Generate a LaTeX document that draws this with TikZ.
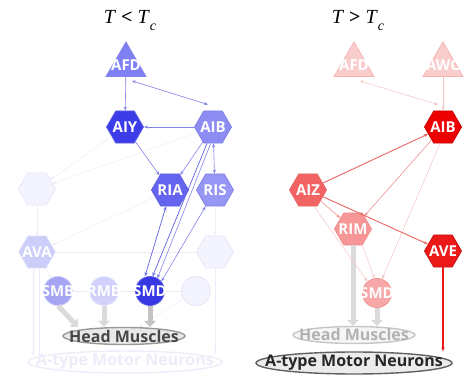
\documentclass[tikz,border=0pt]{standalone}
\usepackage{fontspec}
\setmainfont{Open Sans}
\newfontfamily\titlefont{Liberation Serif}
\usetikzlibrary{shapes.geometric,arrows.meta}
% blues
\definecolor{bAFD}{RGB}{128,128,245}
\definecolor{bAIY}{RGB}{60,60,232}
\definecolor{bAIB}{RGB}{140,140,242}
\definecolor{bRIA}{RGB}{100,100,238}
\definecolor{bRIS}{RGB}{150,150,244}
\definecolor{bAVA}{RGB}{205,205,250}
\definecolor{bSMB}{RGB}{165,165,244}
\definecolor{bRMB}{RGB}{208,208,250}
\definecolor{bSMD}{RGB}{55,55,228}
\definecolor{bfaint}{RGB}{244,244,254}
\definecolor{bfaintd}{RGB}{230,230,250}
\definecolor{bedge}{RGB}{130,130,234}
\definecolor{bedged}{RGB}{95,95,228}
\definecolor{fedge}{RGB}{237,237,250}
% reds
\definecolor{rtri}{RGB}{250,205,205}
\definecolor{rtrid}{RGB}{245,180,180}
\definecolor{rAIB}{RGB}{236,0,0}
\definecolor{rAIZ}{RGB}{242,100,100}
\definecolor{rRIM}{RGB}{246,150,150}
\definecolor{rAVE}{RGB}{236,25,25}
\definecolor{rSMD}{RGB}{248,168,168}
\definecolor{redge}{RGB}{234,100,100}
\definecolor{redgem}{RGB}{240,145,145}
\definecolor{redgef}{RGB}{245,195,195}
\definecolor{gthick}{RGB}{218,218,218}
\definecolor{gthickd}{RGB}{195,195,195}
\begin{document}
\begin{tikzpicture}[x=1pt,y=-1pt,
  hexn/.style={regular polygon,regular polygon sides=6,minimum size=37pt,inner sep=0pt,line width=0.8pt},
  trin/.style={regular polygon,regular polygon sides=3,minimum size=46pt,inner sep=0pt,line width=0.8pt},
  circn/.style={circle,minimum size=29pt,inner sep=0pt,line width=0.8pt},
  elln/.style={ellipse,inner sep=0pt,line width=1.4pt},
  lbl/.style={font=\fontsize{15}{15}\selectfont\bfseries,text=white,inner sep=0pt},
  elbl/.style={font=\fontsize{16}{16}\selectfont\bfseries,inner sep=0pt},
  ttl/.style={font=\titlefont\fontsize{20}{20}\selectfont,inner sep=0pt},
  >={Stealth[length=4pt,width=3.2pt]},
  be/.style={draw=bedge,line width=0.6pt},
  bed/.style={draw=bedged,line width=0.7pt},
  fe/.style={draw=fedge,line width=0.5pt},
  re/.style={draw=redge,line width=0.9pt},
  rem/.style={draw=redgem,line width=0.6pt},
  ref/.style={draw=redgef,line width=0.5pt},
  garrow/.style={draw=gthick,line width=5pt,-{Triangle[length=6pt,width=12pt]}},
]
\useasboundingbox (0,0) rectangle (464,377);

% ---------- titles ----------
\node[ttl] (t1) at (130,21) {\textit{T} \textbf{<} \textit{T}\raisebox{-0.35em}{\fontsize{14}{14}\selectfont\textit{c}}};
\node[ttl] (t2) at (358,21) {\textit{T} \textbf{>} \textit{T}\raisebox{-0.35em}{\fontsize{14}{14}\selectfont\textit{c}}};

% ---------- left panel: faint nodes ----------
\node[hexn,fill=bfaint,draw=bfaintd] (L1) at (37,189) {};
\node[hexn,fill=bfaint,draw=bfaintd] (L2) at (215,252) {};
\node[circn,fill=bfaint,draw=bfaintd] (C4) at (196,291) {};
\node[hexn,fill=bAVA,draw=bfaintd,label={[lbl]center:AVA}] (AVA) at (37,252) {};
\node[circn,fill=bSMB,draw=bAVA,label={[lbl]center:SMB}] (SMB) at (58,291) {};
\node[circn,fill=bRMB,draw=bfaintd,label={[lbl]center:RMB}] (RMB) at (104,291) {};

\node[elln,minimum width=194pt,minimum height=22pt,draw=fedge,fill=white,
  label={[elbl,text=fedge]center:A-type Motor Neurons}] (ATl) at (125,362) {};
\node[elln,minimum width=122pt,minimum height=17pt,draw=gray!80,fill=gray!18,
  label={[elbl,text=black!72]center:Head Muscles}] (HMl) at (124,336) {};

% main left nodes
\node[trin,fill=bAFD,draw=bedge,label={[lbl]center:AFD}] (AFD) at (126,65) {};
\node[hexn,fill=bAIY,draw=bedged,label={[lbl]center:AIY}] (AIY) at (125,127) {};
\node[hexn,fill=bAIB,draw=bedge,label={[lbl]center:AIB}] (AIB) at (213,127) {};
\node[hexn,fill=bRIA,draw=bedged,label={[lbl]center:RIA}] (RIA) at (170,190) {};
\node[hexn,fill=bRIS,draw=bedge,label={[lbl]center:RIS}] (RIS) at (215,190) {};
\node[circn,fill=bSMD,draw=bedged,label={[lbl]center:SMD}] (SMD) at (150,291) {};

% faint edges
\draw[fe,->] (AIY) -- (L1);
\draw[fe,->] (AIB) -- (L1);
\draw[fe,->] (RIA) -- (AVA);
\draw[fe,->] (L1) -- (AVA);
\draw[fe] (AVA) -- (L2);
\draw[fe,->] (RIS) -- (L2);
\draw[fe] (SMB) -- (RMB);
\draw[fe] (RMB) -- (SMD);
\draw[fe] (SMD) -- (C4);
\draw[fe,->] (AVA) -- (SMB);
\coordinate (a1) at (33,356);
\coordinate (a2) at (39,356);
\coordinate (a3) at (215,354);
\draw[fe,->] ([xshift=-4pt]AVA.south) -- (a1);
\draw[fe,->] ([xshift=2pt]AVA.south) -- (a2);
\draw[fe,->] (L2) -- (a3);
\draw[fe,->] (C4) -- (HMl);

% thick gray arrows (left)
\draw[garrow] (SMB.south) -- ([xshift=-46pt]HMl.north);
\draw[garrow] (RMB.south) -- (RMB.south |- HMl.north);
\draw[garrow,draw=gthickd] (SMD.south) -- (SMD.south |- HMl.north);

% blue edges
\draw[be,->] (AFD) -- (AIY);
\draw[be,<->] ([xshift=6pt,yshift=-4pt]AFD.south) -- ([xshift=-5pt,yshift=6pt]AIB.north);
\draw[be,->] (AIB) -- (AIY);
\draw[be,->] (AIY) -- (RIA);
\draw[be,->] (AIB) -- (RIA);
\draw[be,<->] (AIB) -- (RIS);
\draw[bed,<->] ([xshift=-4pt]RIA.south) -- ([xshift=-5pt]SMD.north);
\draw[bed,->] (AIB.250) -- (SMD.80);
\draw[be,->] (AIB.262) -- (SMD.60);
\draw[be,<->] (RIS.240) -- (SMD.40);

% ---------- right panel ----------
\node[elln,minimum width=122pt,minimum height=17pt,draw=gray!45,fill=gray!8,
  label={[elbl,text=gray!60]center:Head Muscles}] (HMr) at (354,335) {};
\node[elln,minimum width=196pt,minimum height=22pt,draw=black!62,fill=gray!15,
  label={[elbl,text=black!85]center:A-type Motor Neurons}] (ATr) at (354,363) {};

\node[trin,fill=rtri,draw=rtrid,label={[lbl]center:AFD}] (AFDr) at (354,65) {};
\node[trin,fill=rtri,draw=rtrid,label={[lbl]center:AWC}] (AWC) at (443,65) {};
\node[hexn,fill=rAIB,draw=rAIB!85!black,label={[lbl]center:AIB}] (AIBr) at (443,127) {};
\node[hexn,fill=rAIZ,draw=redge,label={[lbl]center:AIZ}] (AIZ) at (308,190) {};
\node[hexn,fill=rRIM,draw=redgem,label={[lbl]center:RIM}] (RIM) at (353,229) {};
\node[hexn,fill=rAVE,draw=rAVE!85!black,label={[lbl]center:AVE}] (AVE) at (443,251) {};
\node[circn,fill=rSMD,draw=redgem,label={[lbl]center:SMD}] (SMDr) at (377,293) {};

% thick gray arrows (right)
\draw[garrow] (RIM.south) -- (RIM.south |- HMr.north);
\draw[garrow] (SMDr.south) -- (SMDr.south |- HMr.north);

% red edges
\draw[ref,<->] ([xshift=6pt,yshift=-4pt]AFDr.south) -- ([xshift=-5pt,yshift=6pt]AIBr.north);
\draw[ref,->] (AWC) -- (AIBr);
\draw[re,->] (AIZ) -- (AIBr);
\draw[rem,->] (AIBr) -- (RIM);
\draw[ref,->] (AIBr.260) -- (SMDr.70);
\draw[rem,->] (AIZ) -- (RIM);
\draw[re,->] (AIZ) -- (AVE);
\draw[ref,->] (AIZ.290) -- (SMDr.130);
\draw[ref,->] (RIM.300) -- (SMDr.100);
\draw[draw=rAVE,line width=1.3pt,->] (AVE.south) -- (AVE.south |- ATr.north);
\end{tikzpicture}
\end{document}
